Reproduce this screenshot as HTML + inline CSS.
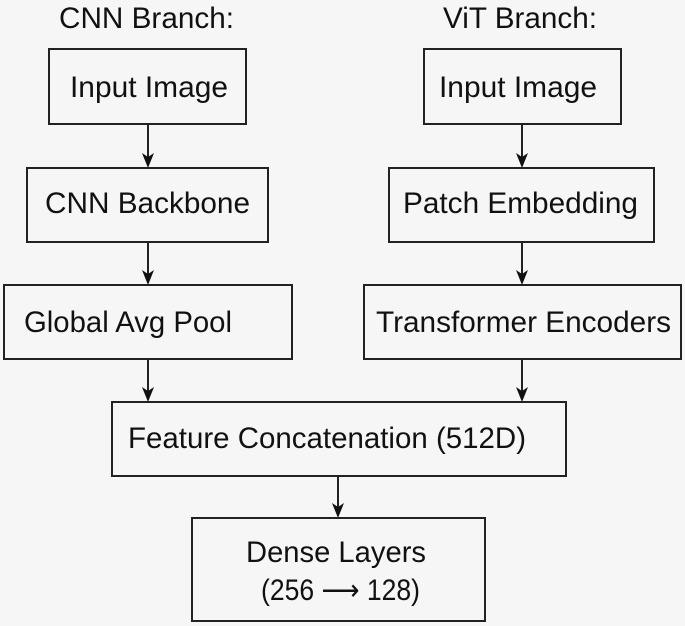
<!DOCTYPE html>
<html><head><meta charset="utf-8"><style>
html,body{margin:0;padding:0;background:#f6f6f6;}
svg{display:block;}
text{font-family:"Liberation Sans",sans-serif;font-size:30px;fill:#111;}
</style></head><body>
<svg width="685" height="626" viewBox="0 0 685 626" xmlns="http://www.w3.org/2000/svg">
<rect width="685" height="626" fill="#f6f6f6"/>
<g fill="none" stroke="#222" stroke-width="2">
<rect x="49" y="49" width="197" height="75"/>
<rect x="27" y="168" width="241" height="74"/>
<rect x="4" y="285" width="288" height="74"/>
<rect x="424" y="49" width="197" height="75"/>
<rect x="389" y="168" width="265" height="74"/>
<rect x="364" y="285" width="317" height="74"/>
<rect x="112" y="402" width="454" height="74"/>
<rect x="192" y="518" width="293" height="103"/>
<path d="M148 124V160M148 242V277M148 359V394M522 124V160M522 242V277M522 359V394M338 476V510"/>
</g>
<g fill="#111">
<path d="M142 153L148 168L154 153L148 157Z"/>
<path d="M142 270L148 285L154 270L148 274Z"/>
<path d="M142 387L148 402L154 387L148 391Z"/>
<path d="M516 153L522 168L528 153L522 157Z"/>
<path d="M516 270L522 285L528 270L522 274Z"/>
<path d="M516 387L522 402L528 387L522 391Z"/>
<path d="M332 503L338 518L344 503L338 507Z"/>
</g>
<text x="59" y="28" textLength="175" lengthAdjust="spacingAndGlyphs">CNN Branch:</text>
<text x="443" y="28" textLength="154" lengthAdjust="spacingAndGlyphs">ViT Branch:</text>
<text x="70" y="97" textLength="158" lengthAdjust="spacingAndGlyphs">Input Image</text>
<text x="439" y="97" textLength="158" lengthAdjust="spacingAndGlyphs">Input Image</text>
<text x="45" y="213" textLength="205" lengthAdjust="spacingAndGlyphs">CNN Backbone</text>
<text x="403" y="213" textLength="235" lengthAdjust="spacingAndGlyphs">Patch Embedding</text>
<text x="24" y="332" textLength="208" lengthAdjust="spacingAndGlyphs">Global Avg Pool</text>
<text x="376" y="332" textLength="295" lengthAdjust="spacingAndGlyphs">Transformer Encoders</text>
<text x="128" y="448" textLength="398" lengthAdjust="spacingAndGlyphs">Feature Concatenation (512D)</text>
<text x="246" y="562" textLength="180" lengthAdjust="spacingAndGlyphs">Dense Layers</text>
<text x="261" y="600" textLength="159" lengthAdjust="spacingAndGlyphs">(256 ⟶ 128)</text>
</svg>
</body></html>
